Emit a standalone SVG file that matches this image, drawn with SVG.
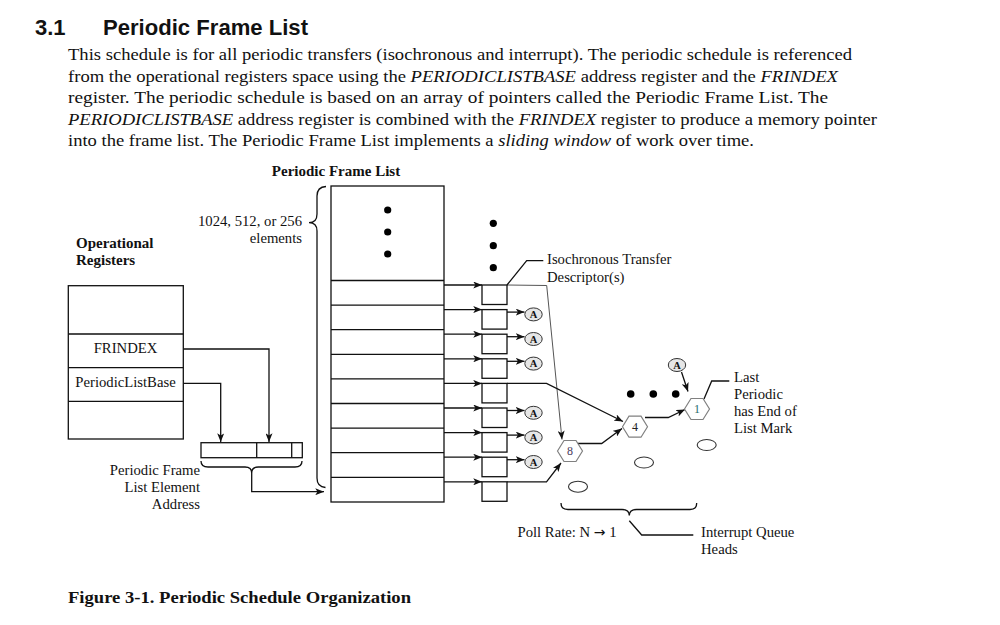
<svg xmlns="http://www.w3.org/2000/svg" width="1000" height="625" viewBox="0 0 1000 625">
<defs>
<marker id="ah" viewBox="0 0 10 8" refX="10" refY="4" markerWidth="9" markerHeight="7" markerUnits="userSpaceOnUse" orient="auto"><path d="M0,0 L10,4 L0,8 L2.5,4 z" fill="#111"/></marker>
<style>
.t{font-family:"Liberation Serif","Times New Roman",serif;fill:#111}
.s14{font-size:14.7px}
.b{font-weight:bold}
.ln{fill:none;stroke:#111;stroke-width:1.3}
.thin{fill:none;stroke:#555;stroke-width:1}
.box{fill:#fff;stroke:#111;stroke-width:1.3}
.aell{fill:#e6e6e6;stroke:#333;stroke-width:1}
.hex{fill:#fff;stroke:#808080;stroke-width:1.2}
.oval{fill:#fff;stroke:#333;stroke-width:1.1}
.dot{fill:#000}
.al{font-family:"Liberation Serif",serif;font-size:10.5px;font-weight:bold;fill:#111;text-anchor:middle}
.hl{font-family:"Liberation Serif",serif;font-size:12px;text-anchor:middle}
</style>
</defs>
<rect width="1000" height="625" fill="#fff"/>

<g id="heading">
<text x="35" y="35" font-family="Liberation Sans, Arial, sans-serif" font-size="22" font-weight="bold" fill="#111">3.1</text>
<text x="103" y="35" font-family="Liberation Sans, Arial, sans-serif" font-size="22" font-weight="bold" fill="#111" textLength="205" lengthAdjust="spacingAndGlyphs">Periodic Frame List</text>
</g>
<g id="paragraph" class="t" font-size="16.5">
<text x="68" y="60" textLength="784" lengthAdjust="spacingAndGlyphs">This schedule is for all periodic transfers (isochronous and interrupt). The periodic schedule is referenced</text>
<text x="68" y="82" textLength="770" lengthAdjust="spacingAndGlyphs">from the operational registers space using the <tspan font-style="italic">PERIODICLISTBASE</tspan> address register and the <tspan font-style="italic">FRINDEX</tspan></text>
<text x="68" y="103" textLength="760" lengthAdjust="spacingAndGlyphs">register. The periodic schedule is based on an array of pointers called the Periodic Frame List. The</text>
<text x="68" y="125" textLength="809" lengthAdjust="spacingAndGlyphs"><tspan font-style="italic">PERIODICLISTBASE</tspan> address register is combined with the <tspan font-style="italic">FRINDEX</tspan> register to produce a memory pointer</text>
<text x="68" y="146" textLength="686" lengthAdjust="spacingAndGlyphs">into the frame list. The Periodic Frame List implements a <tspan font-style="italic">sliding window</tspan> of work over time.</text>
</g>

<g id="connectors">
<path class="ln" d="M183.3,349 L269,349 L269,442" marker-end="url(#ah)"/>
<path class="ln" d="M183.3,383.3 L220.7,383.3 L220.7,442" marker-end="url(#ah)"/>
<path class="ln" d="M201,461 Q201,467 208,467 L245,467 Q251.7,467 251.7,473 Q251.7,467 258.4,467 L295,467 Q302,467 302,461"/>
<path class="ln" d="M251.7,473 L251.7,491.7 L324,491.7" marker-end="url(#ah)"/>
<path class="ln" d="M326,186.5 Q317,187 317,196 L317,214 Q317,222.7 309,222.7 Q317,222.7 317,231 L317,478 Q317,487 325.5,487.5"/>
<path class="ln" d="M444,285 L482,285" marker-end="url(#ah)"/>
<path class="ln" d="M444,309.6 L482,309.6" marker-end="url(#ah)"/>
<path class="ln" d="M444,334.2 L482,334.2" marker-end="url(#ah)"/>
<path class="ln" d="M444,358.8 L482,358.8" marker-end="url(#ah)"/>
<path class="ln" d="M444,383.4 L482,383.4" marker-end="url(#ah)"/>
<path class="ln" d="M444,408 L482,408" marker-end="url(#ah)"/>
<path class="ln" d="M444,432.6 L482,432.6" marker-end="url(#ah)"/>
<path class="ln" d="M444,457.2 L482,457.2" marker-end="url(#ah)"/>
<path class="ln" d="M444,481.8 L482,481.8" marker-end="url(#ah)"/>
<path class="ln" d="M507,312.1 L524.5,312.1" marker-end="url(#ah)"/>
<path class="ln" d="M507,336.7 L524.5,336.7" marker-end="url(#ah)"/>
<path class="ln" d="M507,361.3 L524.5,361.3" marker-end="url(#ah)"/>
<path class="ln" d="M507,410.5 L524.5,410.5" marker-end="url(#ah)"/>
<path class="ln" d="M507,435.1 L524.5,435.1" marker-end="url(#ah)"/>
<path class="ln" d="M507,459.7 L524.5,459.7" marker-end="url(#ah)"/>
<path class="thin" d="M507,285 L546.7,285.5 L562,439.5" marker-end="url(#ah)"/>
<path class="ln" d="M507,383.4 L546.5,383.4 L623,421.5" marker-end="url(#ah)"/>
<path class="ln" d="M507,481.8 L546.5,481.8 L561,463" marker-end="url(#ah)"/>
<path class="ln" d="M578,443.5 L601.7,443.5 L622,428.5" marker-end="url(#ah)"/>
<path class="ln" d="M645,417.5 L668.3,417.5 L685,409.5" marker-end="url(#ah)"/>
<path class="ln" d="M681.5,372 L688,391.5" marker-end="url(#ah)"/>
<path class="ln" d="M507,285 L526.7,260.7 L543.3,260.7"/>
<path class="ln" d="M704,399 L711.7,381 L729.3,381"/>
<path class="ln" d="M561,503 Q561,509.5 568,509.5 L622,509.5 Q629.3,509.5 629.3,515.5 Q629.3,509.5 636.6,509.5 L690,509.5 Q696.7,509.5 696.7,503"/>
<path class="ln" d="M629.3,520.7 L641.7,535 L693.3,535"/>
</g>

<g id="frame-list">
<text class="t b" x="336" y="176" font-size="15" text-anchor="middle">Periodic Frame List</text>
<rect class="box" x="331" y="186" width="113" height="316"/>
<path class="ln" d="M331,280.5 H444 M331,305.1 H444 M331,329.7 H444 M331,354.3 H444 M331,378.9 H444 M331,403.5 H444 M331,428.1 H444 M331,452.7 H444 M331,477.3 H444"/>
<circle class="dot" cx="387.7" cy="210" r="3.6"/>
<circle class="dot" cx="387.7" cy="232" r="3.6"/>
<circle class="dot" cx="387.7" cy="254" r="3.6"/>
<text class="t s14" x="302" y="225.7" text-anchor="end">1024, 512, or 256</text>
<text class="t s14" x="302" y="242.7" text-anchor="end">elements</text>
</g>

<g id="operational-registers">
<text class="t b" x="76" y="248" font-size="15">Operational</text>
<text class="t b" x="76" y="265" font-size="15">Registers</text>
<rect class="box" x="68.3" y="285.7" width="115" height="153.3"/>
<path class="ln" d="M68.3,334 H183.3 M68.3,367.7 H183.3 M68.3,401.3 H183.3"/>
<text class="t s14" x="125.5" y="353" text-anchor="middle">FRINDEX</text>
<text class="t s14" x="125.5" y="387" text-anchor="middle">PeriodicListBase</text>
</g>

<g id="address">
<rect class="box" x="201" y="442.7" width="101.3" height="15"/>
<path class="ln" d="M256.7,442.7 V457.7 M291.7,442.7 V457.7"/>
<text class="t s14" x="200" y="475" text-anchor="end">Periodic Frame</text>
<text class="t s14" x="200" y="491.7" text-anchor="end">List Element</text>
<text class="t s14" x="200" y="508.5" text-anchor="end">Address</text>
</g>

<g id="iso-tds">
<circle class="dot" cx="493.3" cy="223.3" r="3.6"/>
<circle class="dot" cx="493.3" cy="245.7" r="3.6"/>
<circle class="dot" cx="493.3" cy="267.7" r="3.6"/>
<rect class="box" x="482" y="285" width="25" height="19.5"/>
<rect class="box" x="482" y="309.6" width="25" height="19.5"/>
<rect class="box" x="482" y="334.2" width="25" height="19.5"/>
<rect class="box" x="482" y="358.8" width="25" height="19.5"/>
<rect class="box" x="482" y="383.4" width="25" height="19.5"/>
<rect class="box" x="482" y="408" width="25" height="19.5"/>
<rect class="box" x="482" y="432.6" width="25" height="19.5"/>
<rect class="box" x="482" y="457.2" width="25" height="19.5"/>
<rect class="box" x="482" y="481.8" width="25" height="19.5"/>
<text class="t s14" x="547" y="264">Isochronous Transfer</text>
<text class="t s14" x="547" y="281.5">Descriptor(s)</text>
</g>

<g id="a-marks">
<ellipse class="aell" cx="533.5" cy="314.4" rx="8.7" ry="6.5"/><text class="al" x="533.5" y="318.2">A</text>
<ellipse class="aell" cx="533.5" cy="339" rx="8.7" ry="6.5"/><text class="al" x="533.5" y="342.8">A</text>
<ellipse class="aell" cx="533.5" cy="363.6" rx="8.7" ry="6.5"/><text class="al" x="533.5" y="367.4">A</text>
<ellipse class="aell" cx="533.5" cy="412.8" rx="8.7" ry="6.5"/><text class="al" x="533.5" y="416.6">A</text>
<ellipse class="aell" cx="533.5" cy="437.4" rx="8.7" ry="6.5"/><text class="al" x="533.5" y="441.2">A</text>
<ellipse class="aell" cx="533.5" cy="462" rx="8.7" ry="6.5"/><text class="al" x="533.5" y="465.8">A</text>
<ellipse class="aell" cx="677" cy="365" rx="8.7" ry="6.5"/><text class="al" x="677" y="368.8">A</text>
</g>

<g id="qh-8">
<polygon class="hex" points="557.5,451 564,440.5 576,440.5 582.5,451 576,461.5 564,461.5"/>
<text class="hl" x="570" y="455" fill="#4a3d5c">8</text>
</g>
<g id="qh-4">
<polygon class="hex" points="622.5,426.7 629,416.2 641,416.2 647.5,426.7 641,437.2 629,437.2"/>
<text class="hl" x="635" y="430.7" fill="#222">4</text>
</g>
<g id="qh-1">
<polygon class="hex" points="684.5,409 691,398.5 703,398.5 709.5,409 703,419.5 691,419.5"/>
<text class="hl" x="697" y="413" fill="#1d6b6b">1</text>
</g>
<g id="qh-misc">
<circle class="dot" cx="630.7" cy="394" r="3.8"/>
<circle class="dot" cx="653.3" cy="394" r="3.8"/>
<circle class="dot" cx="675.7" cy="394" r="3.8"/>
<ellipse class="oval" cx="706.7" cy="445" rx="9.5" ry="5.5"/>
<ellipse class="oval" cx="644" cy="462.5" rx="9.5" ry="5.5"/>
<ellipse class="oval" cx="578" cy="486.7" rx="9.5" ry="5.5"/>
</g>

<g id="labels">
<text class="t s14" x="734" y="382">Last</text>
<text class="t s14" x="734" y="399">Periodic</text>
<text class="t s14" x="734" y="416">has End of</text>
<text class="t s14" x="734" y="433">List Mark</text>
<text class="t s14" x="517.5" y="537">Poll Rate: N <tspan font-family="DejaVu Sans, sans-serif" font-size="14">→</tspan> 1</text>
<text class="t s14" x="701" y="537">Interrupt Queue</text>
<text class="t s14" x="701" y="554">Heads</text>
</g>

<g id="caption">
<text class="t b" x="68" y="603" font-size="16" textLength="343" lengthAdjust="spacingAndGlyphs">Figure 3-1. Periodic Schedule Organization</text>
</g>
</svg>
